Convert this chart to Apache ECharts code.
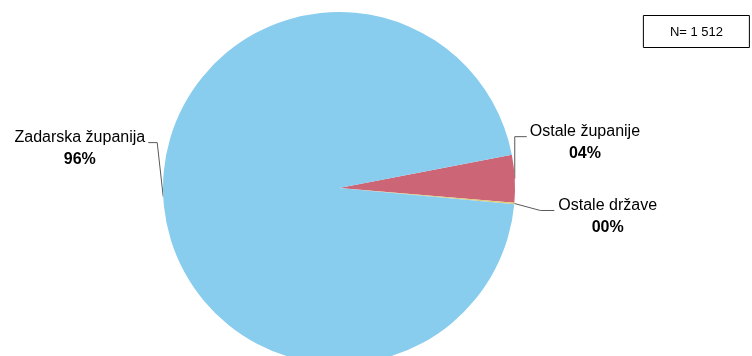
<!DOCTYPE html>
<html><head><meta charset="utf-8">
<script src="https://cdn.jsdelivr.net/npm/echarts@6/dist/echarts.min.js"></script>
<style>html,body{margin:0;padding:0;background:#fff}#c{width:752px;height:356px}</style>
</head><body><div id="c"></div>
<script>
const categories = ['Ostale županije', 'Ostale države', 'Zadarska županija'];
const counts = [66, 2, 1444];
const totalLabel = 'N= 1 512';
const colors = ['#CC6677', '#DDCC77', '#88CCEE'];
// label guide lines: [elbow dx, elbow dy, horizontal run, text gap] relative to slice edge point
const guides = [[0, -42, 12, 3], [26, 7, 14, 4], [-6, -54, -9, 3]];

const chart = echarts.init(document.getElementById('c'), null, {renderer: 'canvas'});
const pct = p => String(Math.round(p)).padStart(2, '0') + '%';
chart.setOption({
  animation: false,
  title: {
    text: totalLabel, right: 2, top: 15, padding: [11, 27, 9, 27],
    borderColor: '#000', borderWidth: 1,
    textStyle: {fontFamily: 'Liberation Sans', fontSize: 13, fontWeight: 'normal', color: '#000'}
  },
  series: [{
    type: 'pie', center: [339, 188], radius: 176, startAngle: 10.9, clockwise: true,
    avoidLabelOverlap: false,
    data: categories.map((c, i) => ({name: c, value: counts[i], itemStyle: {color: colors[i]}})),
    label: {
      show: true, position: 'outside',
      formatter: p => '{n|' + p.name + '}\n{p|' + pct(p.percent) + '}',
      rich: {
        n: {fontFamily: 'Liberation Sans', fontSize: 16, lineHeight: 22, color: '#000', align: 'center'},
        p: {fontFamily: 'Liberation Sans', fontSize: 16, fontWeight: 'bold', lineHeight: 22, color: '#000', align: 'center'}
      }
    },
    labelLine: {show: true, lineStyle: {color: '#595959', width: 1}, length: 10, length2: 10},
    emphasis: {disabled: true},
    labelLayout: function (params) {
      const g = guides[params.dataIndex];
      const a = params.labelLinePoints[0];
      const e = [a[0] + g[0], a[1] + g[1]];
      const t = [e[0] + g[2], e[1]];
      const right = g[2] >= 0;
      return {
        x: t[0] + (right ? g[3] : -g[3]),
        y: t[1] - 16,
        align: right ? 'left' : 'right',
        verticalAlign: 'top',
        labelLinePoints: [a, e, t]
      };
    }
  }]
});
</script></body></html>
